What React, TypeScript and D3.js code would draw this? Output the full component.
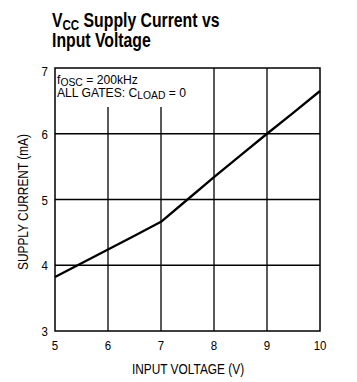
import React from "react";
import * as d3 from "d3";

const voltage = [5, 5.5, 6, 6.5, 7, 7.5, 8, 8.5, 9, 9.5, 10];
const current = [3.82, 4.03, 4.24, 4.45, 4.66, 5.0, 5.34, 5.67, 6.0, 6.32, 6.65];
const xTicks = [5, 6, 7, 8, 9, 10];
const yTicks = [3, 4, 5, 6, 7];

const W = 357, H = 382;
const M = { left: 55, right: 320, top: 68, bottom: 331 };
const FONT = "'Liberation Sans', Arial, sans-serif";

function SText({ x, y, sx = 0.8, rotate = 0, anchor = "start", children, ...rest }: any) {
  return (
    <g transform={`translate(${x},${y}) rotate(${rotate}) scale(${sx},1)`}>
      <text x={0} y={0} textAnchor={anchor} {...rest}>{children}</text>
    </g>
  );
}

export default function App() {
  const x = d3.scaleLinear().domain([5, 10]).range([M.left, M.right]);
  const y = d3.scaleLinear().domain([3, 7]).range([M.bottom, M.top]);
  const line = d3.line<number>().x((_, i) => x(voltage[i])).y((d) => y(d));
  const gridTop = 107;
  return (
    <svg width={W} height={H} style={{ position: "absolute", left: 0, top: 0, background: "#fff" }}>
      <g fontFamily={FONT} fontWeight="bold" fontSize={20.5} fill="#000">
        <SText x={52} y={27} sx={0.77}>
          V<tspan fontSize={15} dy={3}>CC</tspan>
          <tspan dy={-3}> Supply Current vs</tspan>
        </SText>
        <SText x={52} y={47} sx={0.77}>Input Voltage</SText>
      </g>
      {/* grid */}
      {xTicks.slice(1, -1).map((t) => (
        <line key={"vx" + t} x1={x(t)} x2={x(t)} y1={t < 8 ? gridTop : M.top} y2={M.bottom} stroke="#000" strokeWidth={1.3} />
      ))}
      {yTicks.slice(1, -1).map((t) => (
        <line key={"hy" + t} x1={M.left} x2={M.right} y1={y(t)} y2={y(t)} stroke="#000" strokeWidth={1.3} />
      ))}
      <rect x={M.left} y={M.top} width={M.right - M.left} height={M.bottom - M.top} fill="none" stroke="#000" strokeWidth={1.5} />
      <path d={line(current) || ""} fill="none" stroke="#000" strokeWidth={2.3} strokeLinejoin="round" />
      {/* annotation */}
      <g fontFamily={FONT} fontSize={13.5} fill="#000">
        <SText x={57} y={84} sx={0.9}>
          f<tspan fontSize={11.5} dy={2}>OSC</tspan>
          <tspan dy={-2}> = 200kHz</tspan>
        </SText>
        <SText x={57} y={97} sx={0.9}>
          ALL GATES: C<tspan fontSize={11.5} dy={2}>LOAD</tspan>
          <tspan dy={-2}> = 0</tspan>
        </SText>
      </g>
      {/* tick labels */}
      <g fontFamily={FONT} fontSize={13.5} fill="#000">
        {xTicks.map((t) => (
          <SText key={"xt" + t} x={x(t)} y={350} sx={0.85} anchor="middle">{t}</SText>
        ))}
        {yTicks.map((t) => (
          <SText key={"yt" + t} x={48} y={t === 7 ? y(t) + 8 : y(t) + 5} sx={0.85} anchor="end">{t}</SText>
        ))}
        <SText x={188} y={374} sx={0.82} anchor="middle" fontSize={14.5}>INPUT VOLTAGE (V)</SText>
        <SText x={28} y={202} sx={0.82} rotate={-90} anchor="middle" fontSize={14.5}>SUPPLY CURRENT (mA)</SText>
      </g>
    </svg>
  );
}
